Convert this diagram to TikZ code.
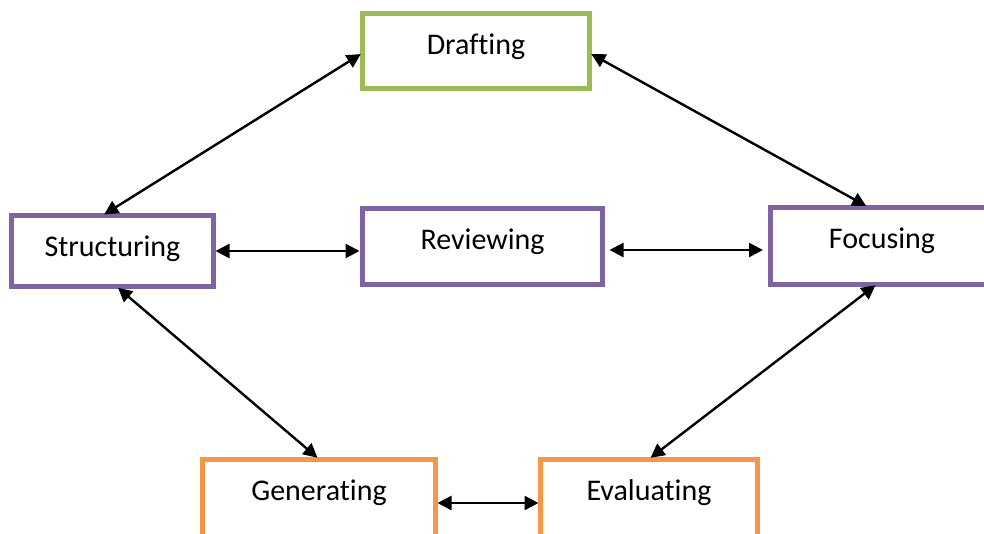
\documentclass[tikz,border=0pt]{standalone}
\usepackage{fontspec}
\setmainfont{Carlito}[Ligatures={NoCommon}]
\usetikzlibrary{arrows.meta}
\definecolor{cgreen}{HTML}{9BBB59}
\definecolor{cpurple}{HTML}{8064A2}
\definecolor{corange}{HTML}{F79646}
\begin{document}
\begin{tikzpicture}[x=1pt,y=-1pt,
  box/.style={draw, line width=5pt, fill=white, inner sep=0pt, outer sep=0pt,
    font=\fontsize{30}{36}\selectfont, text height=41pt},
  link/.style={line width=2.4pt, {Triangle[length=14pt,width=14pt]}-{Triangle[length=14pt,width=14pt]}}
]
\useasboundingbox (0,0) rectangle (984,533);
\clip (0,0) rectangle (984,533);
\node[box, draw=cgreen, minimum width=227pt, minimum height=75pt, text depth=34pt] (drafting) at (476,51) {Drafting};
\node[box, draw=cpurple, minimum width=202pt, minimum height=71pt, text depth=30pt] (structuring) at (112.5,251) {Structuring};
\node[box, draw=cpurple, minimum width=240pt, minimum height=76pt, text depth=35pt] (reviewing) at (482.5,246) {Reviewing};
\node[box, draw=cpurple, minimum width=244pt, minimum height=77pt, text depth=36pt] (focusing) at (892,245.5) {Focusing\hspace*{20pt}};
\node[box, draw=corange, minimum width=233pt, minimum height=85pt, text depth=44pt] (generating) at (319,501.5) {Generating};
\node[box, draw=corange, minimum width=217pt, minimum height=85pt, text depth=44pt] (evaluating) at (649,501.5) {Evaluating};

\draw[link, shorten <=2pt, shorten >=2pt] ([yshift=-2pt]drafting.west) -- ([xshift=-10pt]structuring.north);
\draw[link, shorten <=2pt, shorten >=2pt] ([yshift=-2pt]drafting.east) -- ([xshift=-24pt]focusing.north);
\draw[link, shorten <=2pt, shorten >=2pt] ([xshift=4pt]structuring.south) -- (generating.north);
\draw[link, shorten <=2pt, shorten >=2pt] ([xshift=-15pt]focusing.south) -- (evaluating.north);
\draw[link, shorten <=2pt, shorten >=3pt] (structuring.east) -- (structuring.east -| reviewing.west);
\draw[link, shorten <=7pt, shorten >=7pt] ([yshift=-4pt]reviewing.east) -- ([yshift=-4pt]reviewing.east -| focusing.west);
\draw[link, shorten <=2pt, shorten >=2pt] ([yshift=-1.5pt]generating.east) -- ([yshift=-1.5pt]generating.east -| evaluating.west);
\end{tikzpicture}
\end{document}
